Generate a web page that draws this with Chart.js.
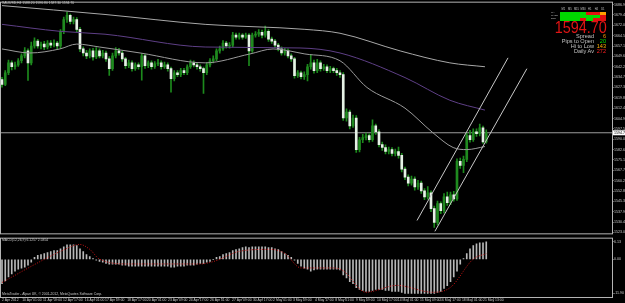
<!DOCTYPE html>
<html>
<head>
<meta charset="utf-8">
<script src="https://cdn.jsdelivr.net/npm/chart.js@4.4.1/dist/chart.umd.min.js"></script>
<style>
  body { margin: 0; background: #000; width: 625px; height: 303px; overflow: hidden; position: relative; font-family: "Liberation Sans", Arial, sans-serif; }
  .box { position: absolute; }
  .t { position: absolute; white-space: nowrap; color: #c8c8c8; line-height: 1; }
  .cell { position: absolute; height: 2.8px; }
</style>
</head>
<body>
<div class="box" style="left:0;top:0;width:625px;height:236px"><canvas id="mainChart"></canvas></div>
<div class="box" style="left:0;top:236px;width:625px;height:67px"><canvas id="macdChart"></canvas></div>

<div class="t" style="left:2px;top:2px;font-size:3.4px">XAUUSD,H4 1588.20 1596.80 1587.30 1594.70</div>
<div class="t" style="left:2px;top:238.5px;font-size:3.4px">MACD(12,26,9) 6.1257 2.0354</div>
<div class="t" style="left:2px;top:292.5px;font-size:3.4px">MetaTrader - Alpari UK, © 2001-2012, MetaQuotes Software Corp.</div>

<div id="panel"></div>

<script>
// ---- data (XAUUSD H4) ----
const opens = [
  1633.0,1629.4,1637.9,1645.0,1642.2,1643.6,1646.5,1650.0,1653.6,1645.0,
  1657.1,1660.6,1657.1,1658.5,1656.4,1659.2,1657.8,1659.2,1657.1,1667.7,
  1676.2,1679.1,1674.8,1676.2,1669.1,1655.0,1652.1,1650.0,1653.6,1649.3,
  1653.6,1650.0,1652.1,1647.9,1640.8,1650.0,1653.6,1652.1,1647.9,1642.9,
  1645.0,1640.8,1643.6,1642.2,1650.0,1642.9,1645.0,1642.2,1644.3,1645.0,
  1642.2,1643.6,1640.8,1633.7,1637.9,1636.5,1639.4,1637.9,1642.2,1645.0,
  1643.6,1642.2,1640.8,1637.9,1643.6,1646.5,1647.9,1653.6,1655.0,1659.2,
  1657.1,1657.8,1664.9,1663.5,1664.9,1663.5,1664.9,1653.6,1664.9,1665.6,
  1667.0,1664.9,1667.7,1662.1,1660.6,1657.8,1655.0,1652.1,1653.6,1650.0,
  1647.9,1635.8,1637.9,1635.1,1636.5,1642.2,1645.0,1639.4,1645.0,1640.8,
  1642.2,1639.4,1640.8,1639.4,1637.9,1636.5,1605.3,1609.6,1599.7,1605.3,
  1582.6,1589.7,1591.2,1592.6,1589.7,1599.7,1595.4,1586.2,1584.1,1581.2,
  1582.6,1579.8,1581.2,1578.4,1568.5,1562.8,1558.5,1561.4,1555.7,1558.5,
  1552.9,1548.6,1551.5,1540.1,1530.2,1543.7,1538.7,1548.6,1544.4,1550.0,
  1547.2,1574.1,1571.3,1575.6,1592.6,1589.7,1595.4,1594.0,1598.2,1588.2
];
const highs = [
  1634.5,1639.5,1647.0,1646.5,1645.5,1648.0,1651.5,1656.0,1655.0,1660.0,
  1663.0,1662.0,1660.0,1660.5,1661.0,1661.0,1661.5,1660.5,1669.0,1678.0,
  1681.5,1680.0,1678.0,1677.5,1670.5,1656.5,1654.0,1655.0,1655.5,1656.0,
  1655.0,1654.0,1653.5,1649.5,1652.0,1656.0,1655.5,1653.5,1649.0,1647.0,
  1646.5,1645.0,1645.0,1651.5,1651.0,1646.5,1646.5,1646.0,1647.5,1646.5,
  1645.5,1645.0,1642.0,1639.5,1639.5,1641.0,1641.0,1643.5,1647.0,1646.5,
  1645.0,1643.5,1642.0,1645.0,1648.0,1650.0,1655.0,1657.0,1661.0,1660.5,
  1659.5,1667.0,1666.5,1666.5,1666.0,1666.5,1666.0,1666.5,1667.5,1669.0,
  1668.5,1671.5,1669.0,1663.5,1662.0,1659.0,1656.5,1655.5,1655.0,1651.5,
  1649.0,1639.5,1639.0,1638.5,1644.0,1651.0,1647.0,1647.5,1646.5,1644.0,
  1643.5,1642.5,1642.0,1641.0,1639.5,1638.0,1612.0,1611.0,1607.5,1607.0,
  1591.5,1593.5,1594.5,1594.0,1604.0,1601.0,1597.0,1588.0,1586.0,1584.5,
  1584.0,1583.0,1584.5,1580.0,1570.0,1564.5,1563.5,1563.0,1560.5,1560.0,
  1554.5,1556.0,1553.0,1542.0,1545.5,1545.0,1551.0,1552.0,1552.0,1552.5,
  1576.0,1576.5,1578.0,1594.5,1596.5,1597.5,1597.5,1601.0,1599.5,1596.8
];
const lows = [
  1627.5,1628.5,1636.5,1640.0,1640.5,1642.5,1645.0,1648.5,1632.3,1643.5,
  1655.5,1655.5,1655.0,1654.5,1655.0,1656.0,1656.5,1654.5,1655.5,1666.0,
  1674.0,1673.0,1673.0,1667.5,1653.0,1650.0,1648.0,1648.5,1647.0,1648.0,
  1648.5,1648.5,1646.0,1636.0,1639.5,1648.5,1650.5,1646.0,1641.0,1641.5,
  1639.0,1639.5,1640.5,1632.5,1641.0,1641.5,1640.5,1641.0,1643.0,1640.5,
  1641.0,1639.0,1624.0,1632.0,1635.0,1635.0,1636.5,1636.5,1641.0,1642.0,
  1640.5,1639.0,1623.0,1636.5,1642.0,1645.0,1646.5,1652.0,1654.0,1655.5,
  1655.5,1656.5,1662.0,1662.0,1662.0,1662.5,1642.9,1652.5,1663.5,1664.0,
  1663.0,1663.5,1660.5,1659.0,1656.0,1653.5,1650.5,1650.5,1648.5,1646.0,
  1634.0,1634.5,1633.5,1633.0,1632.0,1640.5,1637.5,1638.0,1639.0,1639.5,
  1638.0,1638.0,1638.0,1636.0,1634.5,1603.5,1603.0,1597.5,1598.5,1580.5,
  1581.0,1587.5,1589.5,1588.0,1588.5,1593.5,1584.5,1582.0,1579.5,1579.5,
  1578.0,1578.0,1576.5,1566.5,1561.0,1556.5,1557.0,1553.5,1554.0,1551.0,
  1546.5,1547.0,1538.0,1526.6,1528.5,1536.5,1537.0,1542.5,1543.0,1545.5,
  1546.0,1569.0,1566.0,1574.0,1588.0,1588.5,1592.0,1592.5,1587.0,1587.3
];
const closes = [
  1629.4,1637.9,1645.0,1642.2,1643.6,1646.5,1650.0,1653.6,1645.0,1657.1,
  1660.6,1657.1,1658.5,1656.4,1659.2,1657.8,1659.2,1657.1,1667.7,1676.2,
  1679.1,1674.8,1676.2,1669.1,1655.0,1652.1,1650.0,1653.6,1649.3,1653.6,
  1650.0,1652.1,1647.9,1640.8,1650.0,1653.6,1652.1,1647.9,1642.9,1645.0,
  1640.8,1643.6,1642.2,1650.0,1642.9,1645.0,1642.2,1644.3,1645.0,1642.2,
  1643.6,1640.8,1633.7,1637.9,1636.5,1639.4,1637.9,1642.2,1645.0,1643.6,
  1642.2,1640.8,1637.9,1643.6,1646.5,1647.9,1653.6,1655.0,1659.2,1657.1,
  1657.8,1664.9,1663.5,1664.9,1663.5,1664.9,1653.6,1664.9,1665.6,1667.0,
  1664.9,1667.7,1662.1,1660.6,1657.8,1655.0,1652.1,1653.6,1650.0,1647.9,
  1635.8,1637.9,1635.1,1636.5,1642.2,1645.0,1639.4,1645.0,1640.8,1642.2,
  1639.4,1640.8,1639.4,1637.9,1636.5,1605.3,1609.6,1599.7,1605.3,1582.6,
  1589.7,1591.2,1592.6,1589.7,1599.7,1595.4,1586.2,1584.1,1581.2,1582.6,
  1579.8,1581.2,1578.4,1568.5,1562.8,1558.5,1561.4,1555.7,1558.5,1552.9,
  1548.6,1551.5,1540.1,1530.2,1543.7,1538.7,1548.6,1544.4,1550.0,1547.2,
  1574.1,1571.3,1575.6,1592.6,1589.7,1595.4,1594.0,1598.2,1588.2,1594.7
];

// moving averages (bar index, price)
const maSlowIdx = [0, 31.7, 62.5, 93.2, 104, 122.5, 137.8, 148.6];
const maSlow    = [1686.2, 1679.8, 1672.7, 1669.1, 1666.3, 1653.6, 1645.0, 1642.2];
const maMidIdx  = [0, 17.8, 31.7, 62.5, 91.7, 104, 124, 137.8, 148.6];
const maMid     = [1672.7, 1667.7, 1665.6, 1656.4, 1655.7, 1652.1, 1634.4, 1618.1, 1611.0];
const maFastIdx = [0, 8.6, 17.8, 23, 30, 42.5, 62.5, 76.3, 83.4, 93.2, 104, 112.3, 124, 132.6, 138.8, 143, 148.6];
const maFast    = [1655.0, 1652.1, 1655.0, 1658.5, 1656.4, 1652.1, 1645.0, 1651.4, 1655.0, 1651.4, 1646.5, 1627.3, 1612.4, 1594.7, 1584.1, 1582.6, 1584.8];

// channel trendlines
const chanUpIdx = [127.7, 155.7], chanUp = [1531.6, 1648.6];
const chanLoIdx = [133.2, 161.5], chanLo = [1523.8, 1640.8];

const bidPrice = 1594.70;
const priceTicks = [1523.00,1530.45,1537.90,1545.35,1552.80,1560.25,1567.70,1575.15,1582.60,1590.05,
  1597.50,1604.95,1612.40,1619.85,1627.30,1634.75,1642.20,1649.65,1657.10,1664.55,1672.00,1679.45,1686.90];

// MACD(12,26,9)
const macdHist = [
  -8.5,-7.5,-6.1,-5.1,-4.1,-3.4,-3.1,-2.7,-2.0,-1.0,
  0.7,1.4,1.7,2.0,2.4,2.7,3.1,3.1,3.7,4.4,
  5.1,5.1,5.1,4.8,3.7,2.7,1.7,1.0,0.3,-0.3,
  -0.7,-1.0,-1.4,-1.7,-1.7,-1.7,-1.7,-2.0,-2.0,-2.4,
  -2.4,-2.4,-2.4,-2.4,-2.4,-2.4,-2.4,-2.4,-2.4,-2.4,
  -2.4,-2.4,-2.7,-2.7,-2.4,-2.4,-2.4,-2.0,-2.0,-2.0,
  -1.7,-1.4,-1.4,-1.0,-0.7,0.0,0.7,1.0,1.7,2.0,
  2.4,3.1,3.4,3.7,4.1,4.4,4.1,4.4,4.4,4.4,
  4.4,4.4,4.1,4.1,3.7,3.4,2.7,2.0,1.4,0.7,
  -0.3,-1.4,-2.4,-3.1,-3.4,-4.1,-3.7,-3.4,-3.4,-3.4,
  -3.4,-3.4,-3.4,-3.4,-3.7,-5.4,-6.5,-7.8,-8.5,-9.9,
  -10.5,-10.9,-11.2,-11.2,-10.9,-10.5,-10.5,-10.5,-10.9,-10.9,
  -11.2,-11.2,-11.2,-11.6,-11.9,-11.9,-11.9,-11.9,-11.9,-11.9,
  -11.9,-11.9,-11.9,-11.9,-11.6,-11.2,-10.2,-9.2,-7.8,-6.1,
  -4.1,-1.7,0.3,2.0,3.7,4.8,5.4,5.8,5.8,6.1
];
const signalIdx = [0, 12, 18, 24, 27, 30, 39, 61, 65.5, 73, 82.5, 87, 92, 102, 105, 112, 121.5, 132.5, 138, 145, 149];
const signalVal = [-8.1, -0.6, 2.8, 5.2, 3.5, 0.1, -1.6, -1.6, -0.6, 2.8, 3.5, 2.1, -3.0, -3.0, -4.0, -11.5, -9.1, -11.5, -9.8, 0.1, 2.0];
const macdTicks = [6.13, 0, -11.90];

// time axis
const timeTicks = [0, 6.2, 12.6, 18.8, 25.5, 31.7, 38.5, 44.6, 51.1, 57.5, 64.0, 70.8,
  77.2, 83.4, 89.5, 96.3, 102.5, 108.9, 115.4, 121.8, 128.6, 134.8, 141.5, 148.0];
const timeLabels = ["2 Apr 2012", "10 Apr 01:00", "11 Apr 09:00", "12 Apr 17:00", "16 Apr 01:00",
  "17 Apr 09:00", "18 Apr 17:00", "20 Apr 01:00", "23 Apr 09:00", "24 Apr 17:00", "26 Apr 01:00",
  "27 Apr 09:00", "30 Apr 17:00", "2 May 01:00", "3 May 09:00", "4 May 17:00", "8 May 01:00",
  "9 May 09:00", "10 May 17:00", "14 May 01:00", "15 May 09:00", "16 May 17:00", "18 May 01:00",
  "21 May 13:00"];

// view window
const xMin = -0.615, xMax = 187.69;
const priceMin = 1522.36, priceMax = 1688.3;
const macdMin = -13.16, macdMax = 7.24;

const FONT = "Liberation Sans";
const FRAME = "#b4b4b4";

const pts = (xs, ys) => xs.map((x, i) => ({ x: x, y: ys[i] }));

const framePlugin = {
  id: "frame",
  afterDraw(chart) {
    const { ctx, chartArea: a } = chart;
    ctx.save();
    ctx.strokeStyle = FRAME;
    ctx.lineWidth = 1;
    ctx.strokeRect(a.left + 0.5, a.top - 0.5, a.right - a.left, a.bottom - a.top + 1);
    ctx.restore();
  }
};

const bidPlugin = {
  id: "bid",
  afterDraw(chart) {
    const { ctx, chartArea: a } = chart;
    const y = chart.scales.y.getPixelForValue(bidPrice);
    ctx.save();
    ctx.fillStyle = "#ffffff";
    ctx.fillRect(a.right + 1, y - 2.5, 12, 5);
    ctx.fillStyle = "#000000";
    ctx.font = "3.6px " + FONT;
    ctx.textBaseline = "middle";
    ctx.fillText(bidPrice.toFixed(2), a.right + 2, y);
    ctx.restore();
  }
};

new Chart(document.getElementById("mainChart"), {
  type: "bar",
  data: {
    datasets: [
      {
        label: "wicks",
        data: lows.map((l, i) => ({ x: i, y: [l, highs[i]] })),
        backgroundColor: "#1c8a1c",
        barThickness: 1,
        grouped: false,
        order: 3
      },
      {
        label: "bodies",
        data: opens.map((o, i) => ({ x: i, y: [o, closes[i]] })),
        backgroundColor: opens.map((o, i) => (closes[i] >= o ? "#1f8a1f" : "#e6f2e6")),
        barThickness: 2,
        minBarLength: 1,
        grouped: false,
        order: 2
      },
      { type: "line", data: pts(maSlowIdx, maSlow), borderColor: "#a8a8a8", borderWidth: 1, pointRadius: 0, cubicInterpolationMode: "monotone", order: 1 },
      { type: "line", data: pts(maMidIdx, maMid), borderColor: "#5e3f86", borderWidth: 1, pointRadius: 0, cubicInterpolationMode: "monotone", order: 1 },
      { type: "line", data: pts(maFastIdx, maFast), borderColor: "#9a9a9a", borderWidth: 1, pointRadius: 0, cubicInterpolationMode: "monotone", order: 1 },
      { type: "line", data: pts(chanUpIdx, chanUp), borderColor: "#c8c8c8", borderWidth: 1, pointRadius: 0, order: 0 },
      { type: "line", data: pts(chanLoIdx, chanLo), borderColor: "#c8c8c8", borderWidth: 1, pointRadius: 0, order: 0 },
      { type: "line", data: pts([xMin, xMax], [bidPrice, bidPrice]), borderColor: "#9c9c9c", borderWidth: 1, pointRadius: 0, order: 4 }
    ]
  },
  options: {
    responsive: true,
    maintainAspectRatio: false,
    animation: false,
    devicePixelRatio: 1,
    layout: { padding: { top: 1, bottom: 1, left: 0, right: 0 } },
    plugins: { legend: { display: false }, tooltip: { enabled: false } },
    scales: {
      x: { type: "linear", min: xMin, max: xMax, offset: false, display: false },
      y: {
        position: "right",
        min: priceMin,
        max: priceMax,
        afterBuildTicks: (axis) => { axis.ticks = priceTicks.map((v) => ({ value: v })); },
        afterFit: (axis) => { axis.width = 13; },
        grid: { display: true, drawOnChartArea: false, drawTicks: true, tickLength: 1.5, color: FRAME },
        border: { display: true, color: FRAME },
        ticks: {
          padding: 0.5,
          color: "#c8c8c8",
          font: { family: FONT, size: 3.6 },
          callback: (v) => Number(v).toFixed(2)
        }
      }
    }
  },
  plugins: [framePlugin, bidPlugin]
});

new Chart(document.getElementById("macdChart"), {
  type: "bar",
  data: {
    datasets: [
      {
        label: "MACD",
        data: macdHist.map((v, i) => ({ x: i, y: v })),
        backgroundColor: "#b8b8b8",
        barThickness: 1,
        grouped: false,
        order: 2
      },
      {
        type: "line",
        label: "Signal",
        data: pts(signalIdx, signalVal),
        borderColor: "#c81414",
        borderWidth: 1,
        borderDash: [1, 1.5],
        pointRadius: 0,
        cubicInterpolationMode: "monotone",
        order: 1
      }
    ]
  },
  options: {
    responsive: true,
    maintainAspectRatio: false,
    animation: false,
    devicePixelRatio: 1,
    layout: { padding: { top: 1, bottom: 0, left: 0, right: 0 } },
    plugins: { legend: { display: false }, tooltip: { enabled: false } },
    scales: {
      x: {
        type: "linear",
        min: xMin,
        max: xMax,
        offset: false,
        position: "bottom",
        afterBuildTicks: (axis) => { axis.ticks = timeTicks.map((v) => ({ value: v })); },
        afterFit: (axis) => { axis.height = 6; },
        grid: { display: true, drawOnChartArea: false, drawTicks: true, tickLength: 1.5, color: FRAME },
        border: { display: false },
        ticks: {
          autoSkip: false,
          maxRotation: 0,
          align: "start",
          padding: 0,
          color: "#c8c8c8",
          font: { family: FONT, size: 3.4 },
          callback: (v, i) => timeLabels[i]
        }
      },
      y: {
        position: "right",
        min: macdMin,
        max: macdMax,
        afterBuildTicks: (axis) => { axis.ticks = macdTicks.map((v) => ({ value: v })); },
        afterFit: (axis) => { axis.width = 13; },
        grid: { display: true, drawOnChartArea: false, drawTicks: true, tickLength: 1.5, color: FRAME },
        border: { display: true, color: FRAME },
        ticks: {
          padding: 0.5,
          color: "#c8c8c8",
          font: { family: FONT, size: 3.6 },
          callback: (v) => Number(v).toFixed(2)
        }
      }
    }
  },
  plugins: [framePlugin]
});

// ---- info panel (top right) ----
const tfLabels = ["M1", "M5", "M15", "M30", "H1", "H4", "D1"];
const rowLabels = ["MA", "MACD", "STR"];
const rowSignals = [
  ["g", "g", "g", "g", "r", "r", "o"],
  ["g", "g", "g", "g", "g", "g", "r"],
  ["g", "g", "g", "r", "g", "r", "r"]
];
const infoLabels = ["Spread", "Pips to Open", "Hi to Low", "Daily Av"];
const infoValues = ["6", "20", "143", "272"];
const infoColors = ["#ff9900", "#00e000", "#ffb000", "#ff2020"];
const sigColor = { g: "#00d800", r: "#e01010", o: "#ffa000" };

let html = "";
tfLabels.forEach((t, i) => {
  html += `<div class="t" style="left:${560 + i * 6.6}px;top:8.6px;font-size:2.6px;width:6.6px;text-align:center">${t}</div>`;
});
rowSignals.forEach((row, r) => {
  html += `<div class="t" style="left:551px;top:${12.4 + r * 2.8}px;font-size:2.4px">${rowLabels[r]}</div>`;
  row.forEach((s, c) => {
    html += `<div class="cell" style="left:${560 + c * 6.6}px;top:${12.3 + r * 2.8}px;width:6.6px;background:${sigColor[s]}"></div>`;
  });
});
html += `<div class="t" style="right:18px;top:20px;font-size:16px;color:#e01414;transform:scaleX(0.9);transform-origin:right top">${bidPrice.toFixed(2)}</div>`;
infoLabels.forEach((l, i) => {
  html += `<div class="t" style="right:31px;top:${34.2 + i * 5}px;font-size:5.6px;color:#c0c0c0">${l}</div>`;
  html += `<div class="t" style="right:19px;top:${34.2 + i * 5}px;font-size:5.6px;color:${infoColors[i]}">${infoValues[i]}</div>`;
});
document.getElementById("panel").innerHTML = html;
</script>
</body>
</html>
